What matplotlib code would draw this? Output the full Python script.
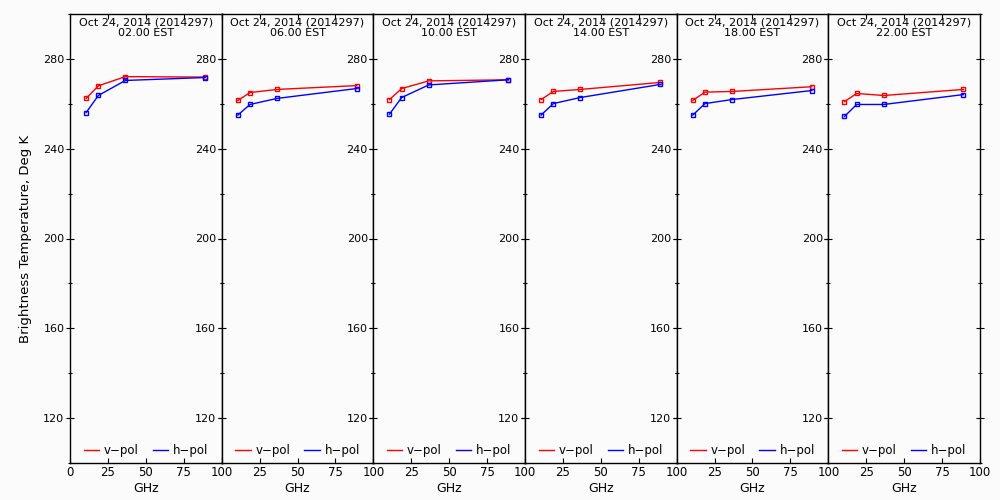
import matplotlib
matplotlib.use('Agg')
import matplotlib.pyplot as plt
from matplotlib.lines import Line2D
from matplotlib.ticker import MultipleLocator, FixedLocator, FixedFormatter

freqs = [10.65, 18.7, 36.5, 89.0]
hours = ['02.00', '06.00', '10.00', '14.00', '18.00', '22.00']
date_label = 'Oct 24, 2014 (2014297)'

vpol = [
    [262.4, 268.0, 272.1, 271.9],
    [261.5, 265.0, 266.4, 268.1],
    [261.9, 266.8, 270.2, 270.7],
    [261.9, 265.5, 266.4, 269.5],
    [261.5, 265.2, 265.5, 267.6],
    [261.0, 264.6, 263.7, 266.4],
]
hpol = [
    [256.1, 263.7, 270.4, 271.7],
    [255.0, 259.7, 262.4, 266.8],
    [255.4, 262.8, 268.4, 270.7],
    [255.0, 260.1, 262.8, 268.6],
    [255.0, 260.1, 261.9, 265.9],
    [254.4, 259.7, 259.7, 264.1],
]

bg = '#fbfbfb'
fig, axes = plt.subplots(1, 6, figsize=(10, 5), dpi=100, sharey=True, facecolor=bg)
fig.subplots_adjust(left=0.07, right=0.98, top=0.972, bottom=0.074, wspace=0)

# legend shows plain lines only
handles = [Line2D([], [], color='red', lw=1, label='v\u2212pol'),
           Line2D([], [], color='blue', lw=1, label='h\u2212pol')]

for i, ax in enumerate(axes):
    ax.set_facecolor(bg)
    ax.plot(freqs, vpol[i], color='red', lw=1, marker='s', ms=3.5,
            mfc='none', mec='red', mew=1)
    ax.plot(freqs, hpol[i], color='blue', lw=1, marker='s', ms=3.5,
            mfc='none', mec='blue', mew=1)
    ax.set_xlim(0, 100)
    ax.set_ylim(100, 300)
    ax.yaxis.set_major_locator(FixedLocator([120, 160, 200, 240, 280]))
    ax.yaxis.set_minor_locator(MultipleLocator(20))
    ax.xaxis.set_major_locator(FixedLocator([0, 25, 50, 75, 100]))
    if i == 0:
        ax.xaxis.set_major_formatter(FixedFormatter(['0', '25', '50', '75', '100']))
    else:
        ax.xaxis.set_major_formatter(FixedFormatter(['', '25', '50', '75', '100']))
    ax.tick_params(axis='y', which='major', direction='inout', length=6, width=0.8,
                   left=True, right=True, labelleft=True, labelsize=8, pad=1)
    ax.tick_params(axis='y', which='minor', direction='inout', length=3, width=0.8,
                   left=True, right=True)
    ax.tick_params(axis='x', direction='in', length=3.5, width=0.8, top=True,
                   labelsize=8.5, pad=2)
    for s in ax.spines.values():
        s.set_linewidth(1)
    ax.set_xlabel('GHz', fontsize=9, labelpad=2)
    ax.text(0.5, 0.993, date_label + '\n' + hours[i] + ' EST', transform=ax.transAxes,
            ha='center', va='top', fontsize=8, linespacing=1.05)
    ax.legend(handles=handles, loc='lower center', ncol=2, frameon=False, fontsize=8.5,
              handlelength=1.3, columnspacing=1.2, handletextpad=0.4,
              bbox_to_anchor=(0.5, -0.01))

axes[0].set_ylabel('Brightness Temperature, Deg K', fontsize=9.5, labelpad=8)

fig.savefig('out.png', dpi=100, facecolor=bg)
